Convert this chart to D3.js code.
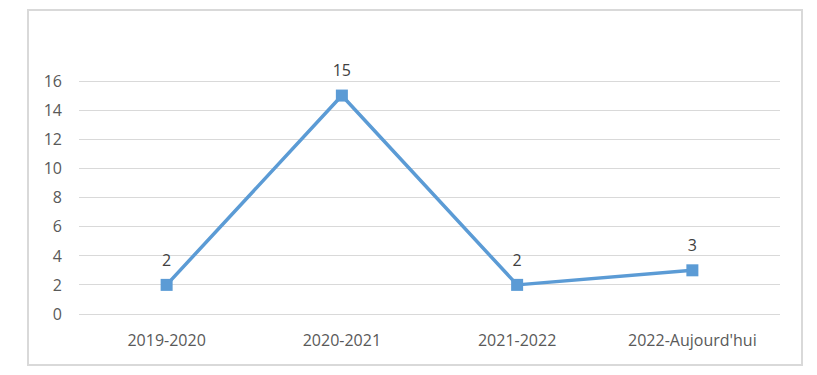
<!DOCTYPE html>
<html><head><meta charset="utf-8">
<script src="https://cdn.jsdelivr.net/npm/d3@7"></script>
<style>body{margin:0;background:#fff}svg{display:block}text{font-family:"Open Sans","Noto Sans",sans-serif;}</style>
</head><body><svg id="c" width="817" height="375"></svg>
<script>
const categories = ["2019-2020","2020-2021","2021-2022","2022-Aujourd'hui"];
const values = [2,15,2,3];
const yTicks = [0,2,4,6,8,10,12,14,16];

const svg = d3.select("#c");
svg.append("rect").attr("x",28).attr("y",10).attr("width",774).attr("height",355)
  .attr("fill","#fff").attr("stroke","#d9d9d9").attr("stroke-width",2);

const x = d3.scaleBand().domain(categories).range([79,780]);
const y = d3.scaleLinear().domain([0,16]).range([314,81]);

const g = svg.append("g");
g.selectAll("line.grid").data(yTicks).join("line").attr("class","grid")
  .attr("x1",79).attr("x2",780).attr("y1",d=>y(d)).attr("y2",d=>y(d))
  .attr("stroke","#d9d9d9").attr("stroke-width",1).attr("shape-rendering","crispEdges");

g.selectAll("text.yt").data(yTicks).join("text").attr("class","yt")
  .attr("x",62).attr("y",d=>y(d)).attr("dy","0.36em").attr("text-anchor","end")
  .attr("fill","#595959").attr("font-size",16).text(d=>d);

g.selectAll("text.xt").data(categories).join("text").attr("class","xt")
  .attr("x",d=>x(d)+x.bandwidth()/2).attr("y",340).attr("dy","0.36em").attr("text-anchor","middle")
  .attr("fill","#595959").attr("font-size",16).text(d=>d);

const cx = (d,i)=>x(categories[i])+x.bandwidth()/2;
const line = d3.line().x((d,i)=>cx(d,i)).y(d=>y(d));
g.append("path").datum(values).attr("d",line).attr("fill","none")
  .attr("stroke","#5b9bd5").attr("stroke-width",3.5).attr("stroke-linejoin","round");

g.selectAll("rect.m").data(values).join("rect").attr("class","m")
  .attr("x",(d,i)=>cx(d,i)-6).attr("y",d=>y(d)-6).attr("width",12).attr("height",12)
  .attr("fill","#5b9bd5");

g.selectAll("text.dl").data(values).join("text").attr("class","dl")
  .attr("x",(d,i)=>cx(d,i)).attr("y",d=>y(d)-25).attr("dy","0.36em").attr("text-anchor","middle")
  .attr("fill","#404040").attr("font-size",16).text(d=>d);
</script></body></html>
